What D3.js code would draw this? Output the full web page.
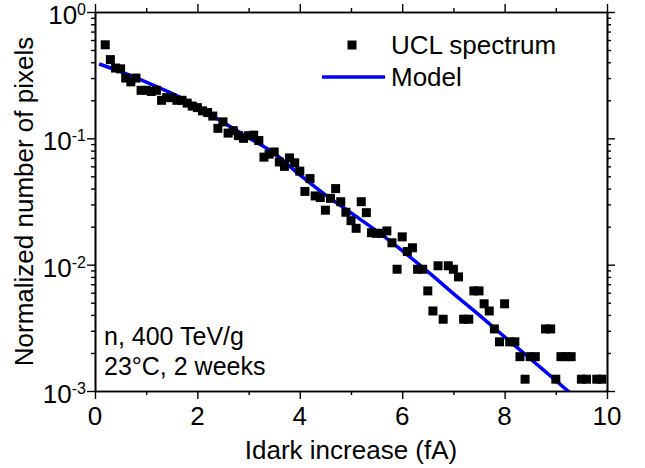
<!DOCTYPE html>
<meta charset="utf-8">
<script src="https://cdn.jsdelivr.net/npm/d3@7"></script>
<style>
    body { margin: 0; background: white; }
    text { font-family: "Liberation Sans", Arial, sans-serif; fill: black; }
</style>
<div id="chart"></div>
<script>
    // UCL spectrum points (Idark increase in fA, normalized count)
    var specX = [0.2, 0.3, 0.4, 0.5, 0.6, 0.7, 0.8, 0.9, 1.0, 1.1, 1.2, 1.3, 1.4, 1.5, 1.6, 1.7, 1.8, 1.9,
        2.0, 2.1, 2.2, 2.3, 2.4, 2.5, 2.6, 2.7, 2.8, 2.9, 3.0, 3.1, 3.2, 3.3, 3.4, 3.5, 3.6, 3.7, 3.8, 3.9,
        4.0, 4.1, 4.2, 4.3, 4.4, 4.5, 4.6, 4.7, 4.8, 4.9, 5.0, 5.1, 5.2, 5.3, 5.4, 5.5, 5.6, 5.7, 5.8, 5.9,
        6.0, 6.1, 6.2, 6.3, 6.4, 6.5, 6.6, 6.7, 6.8, 6.9, 7.0, 7.1, 7.2, 7.3, 7.4, 7.5, 7.6, 7.7, 7.8, 7.9,
        8.0, 8.1, 8.2, 8.3, 8.4, 8.5, 8.6, 8.8, 8.9, 9.0, 9.1, 9.2, 9.3, 9.5, 9.6, 9.8, 9.9];
    var specY = [0.55, 0.42, 0.36, 0.355, 0.30, 0.28, 0.30, 0.24, 0.24, 0.235, 0.24, 0.20, 0.21, 0.21, 0.20, 0.20, 0.19, 0.18,
        0.175, 0.165, 0.16, 0.15, 0.12, 0.135, 0.11, 0.115, 0.105, 0.10, 0.105, 0.106, 0.096, 0.071, 0.075, 0.078, 0.065, 0.060, 0.070, 0.064,
        0.055, 0.038, 0.048, 0.035, 0.034, 0.027, 0.0335, 0.040, 0.0315, 0.026, 0.0223, 0.0194, 0.0315, 0.0258, 0.0179, 0.0177, 0.0177, 0.0185, 0.0149, 0.0092,
        0.0166, 0.0127, 0.0136, 0.0092, 0.0092, 0.0062, 0.0043, 0.0098, 0.0037, 0.0098, 0.0092, 0.0080, 0.0037, 0.0037, 0.0062, 0.0062, 0.0049, 0.0043, 0.0031, 0.00245,
        0.0049, 0.00245, 0.00245, 0.00187, 0.00124, 0.00187, 0.00187, 0.0031, 0.0031, 0.00124, 0.00187, 0.00187, 0.00187, 0.00124, 0.00124, 0.00124, 0.00124];

    // model curve
    var modelX = [0.08, 0.5, 1.0, 1.5, 2.0, 2.5, 3.0, 3.5, 4.0, 4.5, 5.0, 5.5, 6.0, 6.5, 7.0, 7.5, 8.0, 8.5, 9.0, 9.3];
    var modelY = [0.388, 0.337, 0.279, 0.227, 0.179, 0.134, 0.101, 0.0762, 0.0513, 0.0357, 0.0257, 0.0185, 0.0129, 0.0088, 0.0059, 0.0040, 0.00268, 0.0018, 0.00121, 0.00095];

    var xTicks = [0, 2, 4, 6, 8, 10];
    var xMinor = [1, 3, 5, 7, 9];
    var yTicks = [1e-3, 1e-2, 1e-1, 1];
    var yTickExp = ["-3", "-2", "-1", "0"];

    var W = 645, H = 468;
    var margin = { top: 12, right: 38, bottom: 77, left: 95 };
    var x0 = margin.left, x1 = W - margin.right,
        y0 = margin.top, y1 = H - margin.bottom;

    var svg = d3.select("#chart").append("svg")
        .attr("width", W)
        .attr("height", H);

    var x = d3.scaleLinear().domain([0, 10]).range([x0, x1]);
    var y = d3.scaleLog().domain([1e-3, 1]).range([y1, y0]);

    var yMinor = [];
    [1e-3, 1e-2, 1e-1].forEach(function(d) {
        for (var k = 2; k <= 9; k++) yMinor.push(d * k);
    });

    // axes, all four sides, ticks outward
    function styleAxis(g) {
        g.selectAll("path").attr("stroke-width", 1.6);
        g.selectAll("line").attr("stroke-width", 1.4);
    }

    svg.append("g").attr("transform", "translate(0," + y1 + ")")
        .call(d3.axisBottom(x).tickValues(xTicks).tickSize(8).tickSizeOuter(0).tickFormat(""))
        .call(styleAxis);
    svg.append("g").attr("transform", "translate(0," + y1 + ")")
        .call(d3.axisBottom(x).tickValues(xMinor).tickSize(4).tickSizeOuter(0).tickFormat(""))
        .call(styleAxis);
    svg.append("g").attr("transform", "translate(0," + y0 + ")")
        .call(d3.axisTop(x).tickValues(xTicks).tickSize(8).tickSizeOuter(0).tickFormat(""))
        .call(styleAxis);
    svg.append("g").attr("transform", "translate(0," + y0 + ")")
        .call(d3.axisTop(x).tickValues(xMinor).tickSize(4).tickSizeOuter(0).tickFormat(""))
        .call(styleAxis);

    svg.append("g").attr("transform", "translate(" + x0 + ",0)")
        .call(d3.axisLeft(y).tickValues(yTicks).tickSize(8).tickSizeOuter(0).tickFormat(""))
        .call(styleAxis);
    svg.append("g").attr("transform", "translate(" + x0 + ",0)")
        .call(d3.axisLeft(y).tickValues(yMinor).tickSize(4).tickSizeOuter(0).tickFormat(""))
        .call(styleAxis);
    svg.append("g").attr("transform", "translate(" + x1 + ",0)")
        .call(d3.axisRight(y).tickValues(yTicks).tickSize(8).tickSizeOuter(0).tickFormat(""))
        .call(styleAxis);
    svg.append("g").attr("transform", "translate(" + x1 + ",0)")
        .call(d3.axisRight(y).tickValues(yMinor).tickSize(4).tickSizeOuter(0).tickFormat(""))
        .call(styleAxis);

    // x tick labels
    svg.append("g").selectAll("text")
        .data(xTicks)
        .enter().append("text")
        .attr("x", function(d) { return x(d); })
        .attr("y", y1 + 34)
        .attr("text-anchor", "middle")
        .style("font-size", "26px")
        .text(function(d) { return d; });

    // y tick labels with superscript exponent
    var yl = svg.append("g").selectAll("text")
        .data(yTicks)
        .enter().append("text")
        .attr("x", x0 - 9)
        .attr("y", function(d) { return y(d) + 12; })
        .attr("text-anchor", "end")
        .style("font-size", "26px");
    yl.append("tspan").text("10");
    yl.append("tspan")
        .attr("dy", -9)
        .style("font-size", "16px")
        .text(function(d, i) { return yTickExp[i]; });

    // axis titles
    svg.append("text")
        .attr("x", (x0 + x1) / 2)
        .attr("y", 459)
        .attr("text-anchor", "middle")
        .style("font-size", "26px")
        .text("Idark increase (fA)");

    svg.append("text")
        .attr("transform", "translate(33," + (y0 + y1) / 2 + ") rotate(-90)")
        .attr("text-anchor", "middle")
        .style("font-size", "26px")
        .text("Normalized number of pixels");

    // model line
    svg.append("clipPath").attr("id", "clip")
        .append("rect")
        .attr("x", x0).attr("y", y0)
        .attr("width", x1 - x0).attr("height", y1 - y0);

    var model = modelX.map(function(d, i) { return [d, modelY[i]]; });
    var line = d3.line()
        .x(function(d) { return x(d[0]); })
        .y(function(d) { return y(d[1]); })
        .curve(d3.curveMonotoneX);

    svg.append("path")
        .datum(model)
        .attr("clip-path", "url(#clip)")
        .attr("fill", "none")
        .attr("stroke", "#0000ff")
        .attr("stroke-width", 3.5)
        .attr("d", line);

    // spectrum squares
    var sq = 9;
    svg.append("g").selectAll("rect")
        .data(specX)
        .enter().append("rect")
        .attr("x", function(d) { return x(d) - sq / 2; })
        .attr("y", function(d, i) { return y(specY[i]) - sq / 2; })
        .attr("width", sq)
        .attr("height", sq)
        .attr("fill", "black");

    // legend
    svg.append("rect")
        .attr("x", 352 - sq / 2).attr("y", 45 - sq / 2)
        .attr("width", sq).attr("height", sq)
        .attr("fill", "black");
    svg.append("text")
        .attr("x", 391).attr("y", 54)
        .style("font-size", "26px")
        .text("UCL spectrum");
    svg.append("line")
        .attr("x1", 322).attr("x2", 385)
        .attr("y1", 77).attr("y2", 77)
        .attr("stroke", "#0000ff")
        .attr("stroke-width", 3.5);
    svg.append("text")
        .attr("x", 391).attr("y", 86)
        .style("font-size", "26px")
        .text("Model");

    // annotation
    svg.append("text")
        .attr("x", 104).attr("y", 345)
        .style("font-size", "25px")
        .text("n, 400 TeV/g");
    svg.append("text")
        .attr("x", 104).attr("y", 375)
        .style("font-size", "25px")
        .text("23°C, 2 weeks");
</script>
